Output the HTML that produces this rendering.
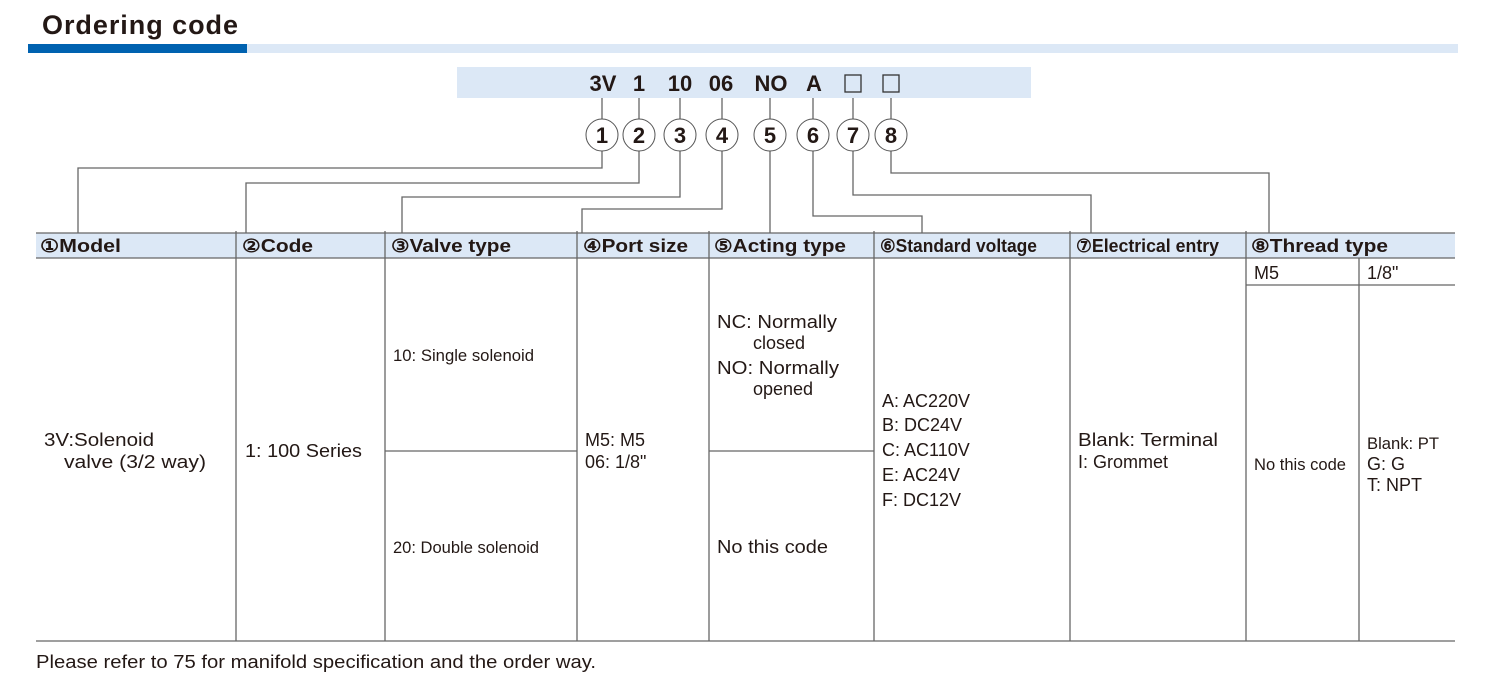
<!DOCTYPE html>
<html><head><meta charset="utf-8"><style>
html,body{margin:0;padding:0;background:#fff;width:1501px;height:683px;overflow:hidden}
svg{display:block}
text{font-family:"Liberation Sans",Arial,sans-serif;fill:#231815}
.h{font-weight:bold;font-size:18px}
.b{font-size:18px}
.c{font-size:17px}
</style></head><body>
<svg width="1501" height="683" viewBox="0 0 1501 683" xmlns="http://www.w3.org/2000/svg">
<text x="42" y="34" style="font-weight:bold;font-size:27px" textLength="196" lengthAdjust="spacing">Ordering code</text>
<rect x="28" y="44" width="219" height="9" fill="#0062b0"/>
<rect x="247" y="44" width="1211" height="9" fill="#dce8f6"/>
<rect x="457" y="67" width="574" height="31" fill="#dce8f6"/>
<g style="font-weight:bold;font-size:22px" text-anchor="middle">
<text x="603" y="91">3V</text><text x="639" y="91">1</text><text x="680" y="91">10</text><text x="721" y="91">06</text><text x="771" y="91">NO</text><text x="814" y="91">A</text>
</g>
<rect x="845" y="75" width="16" height="17" fill="none" stroke="#333" stroke-width="1.3"/>
<rect x="883" y="75" width="16" height="17" fill="none" stroke="#333" stroke-width="1.3"/>
<g stroke="#666" stroke-width="1.3" fill="none">
<path d="M602 98V119M639 98V119M680 98V119M722 98V119M770 98V119M813 98V119M853 98V119M891 98V119"/>
<path d="M602 151V168H78V233"/>
<path d="M639 151V183H246V233"/>
<path d="M680 151V197H402V233"/>
<path d="M722 151V209H582V233"/>
<path d="M770 151V233"/>
<path d="M813 151V216H922V233"/>
<path d="M853 151V195H1091V233"/>
<path d="M891 151V173H1269V233"/>
</g>
<g fill="#fff" stroke="#555" stroke-width="1">
<circle cx="602" cy="135" r="16"/><circle cx="639" cy="135" r="16"/><circle cx="680" cy="135" r="16"/><circle cx="722" cy="135" r="16"/><circle cx="770" cy="135" r="16"/><circle cx="813" cy="135" r="16"/><circle cx="853" cy="135" r="16"/><circle cx="891" cy="135" r="16"/>
</g>
<g style="font-weight:bold;font-size:22px" text-anchor="middle">
<text x="602" y="143">1</text><text x="639" y="143">2</text><text x="680" y="143">3</text><text x="722" y="143">4</text><text x="770" y="143">5</text><text x="813" y="143">6</text><text x="853" y="143">7</text><text x="891" y="143">8</text>
</g>
<rect x="36" y="233" width="1419" height="25" fill="#dce8f6"/>
<g stroke="#666" stroke-width="1.3" fill="none">
<path d="M36 233H1455M36 258H1455M36 641H1455"/>
<path d="M236 231V641M385 231V641M577 231V641M709 231V641M874 231V641M1070 231V641M1246 231V641"/>
<path d="M1359 258V641M1246 285H1455"/>
<path d="M385 451H577M709 451H874"/>
</g>
<text class="h" x="40" y="252" textLength="81" lengthAdjust="spacingAndGlyphs">①Model</text>
<text class="h" x="242" y="252" textLength="71" lengthAdjust="spacingAndGlyphs">②Code</text>
<text class="h" x="391" y="252" textLength="120" lengthAdjust="spacingAndGlyphs">③Valve type</text>
<text class="h" x="583" y="252" textLength="105" lengthAdjust="spacingAndGlyphs">④Port size</text>
<text class="h" x="714" y="252" textLength="132" lengthAdjust="spacingAndGlyphs">⑤Acting type</text>
<text class="h" x="880" y="252" textLength="157" lengthAdjust="spacingAndGlyphs">⑥Standard voltage</text>
<text class="h" x="1076" y="252" textLength="143" lengthAdjust="spacingAndGlyphs">⑦Electrical entry</text>
<text class="h" x="1251" y="252" textLength="137" lengthAdjust="spacingAndGlyphs">⑧Thread type</text>
<text class="b" x="1254" y="279">M5</text>
<text class="b" x="1367" y="279">1/8"</text>
<text class="b" x="44" y="446" textLength="110" lengthAdjust="spacingAndGlyphs">3V:Solenoid</text>
<text class="b" x="64" y="468" textLength="142" lengthAdjust="spacingAndGlyphs">valve (3/2 way)</text>
<text class="b" x="245" y="457" textLength="117" lengthAdjust="spacingAndGlyphs">1: 100 Series</text>
<text class="c" x="393" y="361" textLength="141" lengthAdjust="spacingAndGlyphs">10: Single solenoid</text>
<text class="c" x="393" y="553" textLength="146" lengthAdjust="spacingAndGlyphs">20: Double solenoid</text>
<text class="b" x="585" y="446">M5: M5</text>
<text class="b" x="585" y="468">06: 1/8"</text>
<text class="b" x="717" y="328" textLength="120" lengthAdjust="spacingAndGlyphs">NC: Normally</text>
<text class="b" x="753" y="349">closed</text>
<text class="b" x="717" y="374" textLength="122" lengthAdjust="spacingAndGlyphs">NO: Normally</text>
<text class="b" x="753" y="395">opened</text>
<text class="b" x="717" y="553" textLength="111" lengthAdjust="spacingAndGlyphs">No this code</text>
<text class="b" x="882" y="407">A: AC220V</text>
<text class="b" x="882" y="431">B: DC24V</text>
<text class="b" x="882" y="456">C: AC110V</text>
<text class="b" x="882" y="481">E: AC24V</text>
<text class="b" x="882" y="506">F: DC12V</text>
<text class="b" x="1078" y="446" textLength="140" lengthAdjust="spacingAndGlyphs">Blank: Terminal</text>
<text class="b" x="1078" y="468">I: Grommet</text>
<text class="c" x="1254" y="470" textLength="92" lengthAdjust="spacingAndGlyphs">No this code</text>
<text class="c" x="1367" y="449" textLength="72" lengthAdjust="spacingAndGlyphs">Blank: PT</text>
<text class="b" x="1367" y="470">G: G</text>
<text class="b" x="1367" y="491">T: NPT</text>
<text class="b" x="36" y="668" textLength="560" lengthAdjust="spacingAndGlyphs">Please refer to 75 for manifold specification and the order way.</text>
</svg>
</body></html>
